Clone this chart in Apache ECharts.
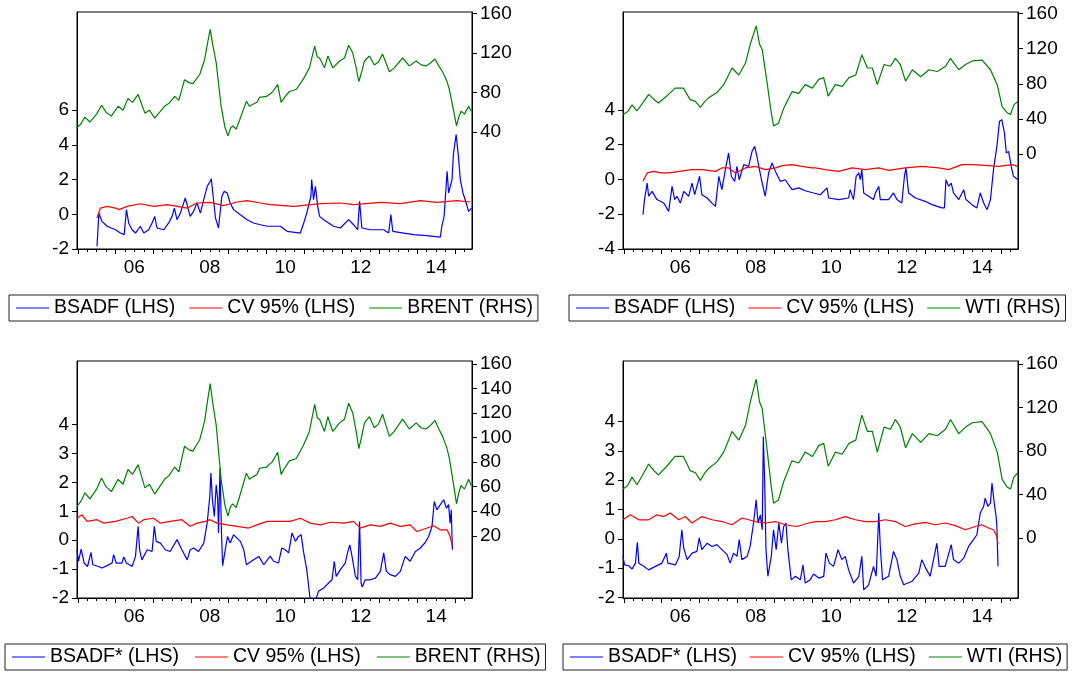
<!DOCTYPE html>
<html><head><meta charset="utf-8">
<script src="https://cdn.jsdelivr.net/npm/echarts@6/dist/echarts.min.js"></script>
<style>html,body{margin:0;padding:0;background:#fff}#c{width:1073px;height:675px}</style>
</head><body><div id="c"></div><script>
// ---- data: [year, value] ----
const brent = [[2004.98,44],[2005.08,48],[2005.19,55],[2005.32,50],[2005.5,58],[2005.63,67],[2005.75,60],[2005.89,56],[2006.07,66],[2006.2,62],[2006.33,74],[2006.45,70],[2006.6,78],[2006.78,59],[2006.9,62],[2007.04,54],[2007.15,59],[2007.3,66],[2007.42,69],[2007.57,76],[2007.68,72],[2007.83,93],[2007.95,90],[2008.05,89],[2008.23,98],[2008.36,113],[2008.45,132],[2008.51,144],[2008.58,128],[2008.67,110],[2008.8,66],[2008.9,45],[2008.98,36],[2009.05,44],[2009.11,46],[2009.2,43],[2009.29,52],[2009.47,71],[2009.55,66],[2009.64,68],[2009.75,70],[2009.82,75],[2010.0,76],[2010.15,80],[2010.3,88],[2010.39,70],[2010.5,76],[2010.61,81],[2010.79,83],[2010.97,93],[2011.14,105],[2011.28,127],[2011.35,116],[2011.41,115],[2011.54,105],[2011.63,117],[2011.76,105],[2011.94,112],[2012.07,115],[2012.18,128],[2012.29,120],[2012.38,105],[2012.45,91],[2012.52,100],[2012.6,112],[2012.73,117],[2012.86,108],[2012.97,111],[2013.08,119],[2013.17,110],[2013.26,101],[2013.39,105],[2013.61,115],[2013.79,107],[2013.97,112],[2014.1,108],[2014.23,107],[2014.35,110],[2014.47,114],[2014.57,107],[2014.67,101],[2014.78,92],[2014.85,83],[2014.94,66],[2015.04,46],[2015.1,55],[2015.16,61],[2015.25,58],[2015.36,66],[2015.43,61]];
const wti = [[2004.98,45],[2005.1,48],[2005.22,56],[2005.35,49],[2005.5,58],[2005.66,68],[2005.8,62],[2005.92,58],[2006.14,66],[2006.36,75],[2006.58,75],[2006.76,62],[2006.9,60],[2007.03,53],[2007.15,60],[2007.25,64],[2007.47,70],[2007.65,79],[2007.87,98],[2008.05,90],[2008.23,104],[2008.36,126],[2008.51,146],[2008.6,125],[2008.67,119],[2008.8,81],[2008.9,50],[2008.97,32],[2009.1,35],[2009.24,52],[2009.46,71],[2009.64,69],[2009.81,79],[2010.0,75],[2010.17,85],[2010.3,87],[2010.42,66],[2010.61,79],[2010.79,77],[2010.97,87],[2011.15,90],[2011.31,113],[2011.46,98],[2011.59,98],[2011.72,79],[2011.9,102],[2012.07,100],[2012.2,109],[2012.33,102],[2012.47,83],[2012.65,96],[2012.87,88],[2013.09,96],[2013.31,94],[2013.53,100],[2013.66,109],[2013.88,96],[2014.06,102],[2014.24,106],[2014.5,107],[2014.72,96],[2014.9,79],[2015.03,54],[2015.16,47],[2015.25,45],[2015.34,56],[2015.45,60]];
const bsadf1 = [[2005.51,-1.85],[2005.56,0.07],[2005.64,-0.41],[2005.78,-0.69],[2006.0,-0.89],[2006.13,-1.08],[2006.23,-1.17],[2006.29,0.27],[2006.35,-0.50],[2006.44,-0.89],[2006.53,-1.08],[2006.66,-0.69],[2006.75,-1.08],[2006.88,-0.89],[2006.97,-0.50],[2007.04,-0.12],[2007.10,-0.79],[2007.28,-0.89],[2007.41,-0.50],[2007.50,-0.12],[2007.56,0.36],[2007.63,-0.31],[2007.72,0.07],[2007.85,0.94],[2007.91,0.46],[2007.98,-0.12],[2008.07,0.17],[2008.16,0.65],[2008.25,0.07],[2008.34,0.84],[2008.43,1.61],[2008.51,1.90],[2008.54,2.05],[2008.58,1.23],[2008.65,-0.21],[2008.73,-0.79],[2008.82,1.04],[2008.88,1.32],[2008.96,1.23],[2009.04,0.65],[2009.13,0.27],[2009.31,-0.02],[2009.49,-0.31],[2009.66,-0.50],[2009.84,-0.60],[2010.02,-0.69],[2010.37,-0.69],[2010.55,-0.98],[2010.90,-1.08],[2010.99,-0.50],[2011.07,0.07],[2011.18,1.04],[2011.20,2.0],[2011.25,0.84],[2011.30,1.61],[2011.36,0.46],[2011.41,-0.12],[2011.52,-0.31],[2011.65,-0.50],[2011.78,-0.69],[2011.96,-0.79],[2012.18,-0.31],[2012.31,-0.60],[2012.42,-0.89],[2012.47,0.75],[2012.53,-0.79],[2012.75,-0.89],[2013.11,-0.89],[2013.24,-1.08],[2013.30,-0.02],[2013.35,-0.98],[2013.64,-1.08],[2013.90,-1.17],[2014.25,-1.23],[2014.61,-1.31],[2014.65,-0.69],[2014.71,-0.12],[2014.79,2.48],[2014.83,1.23],[2014.92,2.0],[2014.96,3.53],[2015.03,4.59],[2015.09,3.34],[2015.14,2.0],[2015.21,1.23],[2015.27,0.84],[2015.36,0.17],[2015.44,0.36]];
const cv1 = [[2005.51,-0.21],[2005.6,0.36],[2005.78,0.46],[2006.0,0.36],[2006.09,0.27],[2006.31,0.46],[2006.66,0.61],[2007.01,0.46],[2007.37,0.56],[2007.9,0.36],[2008.16,0.65],[2008.51,0.69],[2008.87,0.50],[2009.22,0.71],[2009.49,0.79],[2009.84,0.65],[2010.1,0.56],[2010.72,0.46],[2011.43,0.61],[2011.96,0.65],[2012.31,0.56],[2013.02,0.69],[2013.55,0.61],[2014.08,0.79],[2014.52,0.69],[2015.05,0.79],[2015.4,0.71]];
const bsadf2 = [[2005.51,-2.03],[2005.55,-1.16],[2005.62,-0.21],[2005.66,-0.97],[2005.75,-0.69],[2005.88,-1.16],[2006.06,-1.36],[2006.19,-1.84],[2006.28,-0.40],[2006.35,-1.16],[2006.41,-0.97],[2006.50,-1.36],[2006.59,-0.69],[2006.72,-0.97],[2006.81,-0.21],[2006.88,-0.88],[2007.01,0.18],[2007.07,-0.88],[2007.21,-1.07],[2007.34,-1.36],[2007.43,-1.55],[2007.52,0.18],[2007.60,-0.59],[2007.71,0.75],[2007.78,1.52],[2007.85,0.18],[2007.94,-0.11],[2008.00,0.75],[2008.06,-0.02],[2008.18,0.85],[2008.31,0.75],[2008.40,1.61],[2008.47,1.90],[2008.53,1.33],[2008.58,0.75],[2008.65,-0.02],[2008.75,-0.97],[2008.84,0.37],[2008.93,0.94],[2009.02,0.46],[2009.15,-0.11],[2009.28,-0.02],[2009.46,-0.59],[2009.64,-0.49],[2009.81,-0.65],[2010.03,-0.78],[2010.21,-0.88],[2010.39,-0.49],[2010.43,-1.07],[2010.70,-1.16],[2010.96,-1.07],[2011.00,-0.59],[2011.09,-1.16],[2011.16,0.18],[2011.23,0.37],[2011.27,-0.02],[2011.31,0.56],[2011.36,-0.78],[2011.49,-0.97],[2011.62,-1.16],[2011.67,-0.78],[2011.76,-0.40],[2011.80,-1.16],[2012.02,-1.16],[2012.15,-0.78],[2012.24,-1.16],[2012.37,-1.36],[2012.44,0.18],[2012.48,0.66],[2012.55,-0.78],[2012.73,-1.07],[2012.99,-1.26],[2013.17,-1.45],[2013.43,-1.64],[2013.50,-1.64],[2013.54,-0.02],[2013.61,-0.40],[2013.68,-0.21],[2013.74,-0.78],[2013.88,-1.16],[2014.01,-0.59],[2014.07,-1.16],[2014.23,-1.45],[2014.36,-1.64],[2014.45,-0.78],[2014.54,-1.36],[2014.63,-1.74],[2014.72,-1.16],[2014.80,0.56],[2014.89,1.90],[2014.96,3.34],[2015.02,3.43],[2015.09,2.67],[2015.14,1.52],[2015.20,1.61],[2015.27,0.75],[2015.33,0.18],[2015.45,-0.02]];
const cv2 = [[2005.51,-0.11],[2005.62,0.37],[2005.8,0.46],[2005.98,0.37],[2006.2,0.37],[2006.47,0.46],[2006.81,0.56],[2007.07,0.56],[2007.43,0.46],[2007.6,0.66],[2007.78,0.66],[2007.96,0.37],[2008.22,0.66],[2008.49,0.75],[2008.75,0.56],[2009.02,0.66],[2009.2,0.79],[2009.46,0.85],[2009.72,0.75],[2009.99,0.66],[2010.08,0.66],[2010.34,0.56],[2010.7,0.46],[2011.05,0.66],[2011.4,0.56],[2011.76,0.66],[2012.02,0.52],[2012.46,0.66],[2012.9,0.75],[2013.35,0.66],[2013.61,0.56],[2013.96,0.85],[2014.23,0.85],[2014.58,0.81],[2014.93,0.75],[2015.29,0.85],[2015.45,0.75]];
const bsadf3 = [[2004.98,-0.33],[2005.02,-0.73],[2005.09,-0.31],[2005.17,-0.79],[2005.26,-0.91],[2005.35,-0.42],[2005.40,-0.85],[2005.55,-0.91],[2005.64,-0.96],[2005.78,-0.88],[2005.91,-0.79],[2005.95,-0.50],[2006.02,-0.79],[2006.17,-0.79],[2006.22,-0.58],[2006.29,-0.79],[2006.44,-0.91],[2006.53,-0.56],[2006.60,0.48],[2006.64,-0.33],[2006.70,-0.68],[2006.84,-0.33],[2006.97,-0.39],[2007.03,0.48],[2007.08,-0.04],[2007.19,-0.10],[2007.32,-0.33],[2007.45,-0.39],[2007.63,0.02],[2007.76,-0.33],[2007.90,-0.68],[2007.98,-0.33],[2008.07,-0.27],[2008.20,-0.39],[2008.34,-0.10],[2008.43,0.59],[2008.50,1.51],[2008.53,2.32],[2008.57,1.40],[2008.62,0.82],[2008.67,1.92],[2008.71,1.40],[2008.73,0.25],[2008.77,2.49],[2008.81,0.25],[2008.84,-0.88],[2008.91,-0.33],[2008.97,0.13],[2009.04,-0.10],[2009.13,0.19],[2009.22,0.07],[2009.31,-0.04],[2009.40,-0.33],[2009.47,-0.85],[2009.66,-0.68],[2009.80,-0.56],[2009.93,-0.85],[2010.10,-0.55],[2010.19,-0.73],[2010.32,-0.79],[2010.41,-0.27],[2010.50,-0.33],[2010.59,-0.44],[2010.68,0.25],[2010.77,-0.04],[2010.85,0.13],[2010.92,0.19],[2010.99,-0.44],[2011.07,-1.02],[2011.15,-1.94],[2011.18,-2.15],[2011.30,-2.1],[2011.38,-1.77],[2011.52,-1.65],[2011.65,-1.48],[2011.74,-1.37],[2011.80,-0.73],[2011.85,-1.25],[2011.96,-1.02],[2012.09,-0.79],[2012.15,-0.44],[2012.21,-0.16],[2012.27,-0.56],[2012.36,-1.25],[2012.42,-1.37],[2012.47,0.65],[2012.51,-1.48],[2012.54,-1.62],[2012.62,-1.37],[2012.75,-1.37],[2012.89,-1.31],[2013.02,-1.08],[2013.11,-0.44],[2013.18,-1.08],[2013.28,-1.19],[2013.42,-1.25],[2013.55,-1.08],[2013.68,-0.56],[2013.81,-0.73],[2013.95,-0.39],[2014.08,-0.27],[2014.21,-0.08],[2014.30,0.13],[2014.39,0.48],[2014.45,1.34],[2014.52,1.05],[2014.61,1.23],[2014.70,1.40],[2014.77,1.11],[2014.83,1.23],[2014.87,0.59],[2014.90,1.05],[2014.93,-0.33]];
const cv3 = [[2004.98,0.76],[2005.11,0.88],[2005.25,0.65],[2005.51,0.71],[2005.69,0.59],[2006.0,0.65],[2006.3,0.76],[2006.44,0.82],[2006.61,0.59],[2006.75,0.71],[2007.01,0.76],[2007.19,0.59],[2007.45,0.65],[2007.76,0.71],[2007.98,0.48],[2008.16,0.59],[2008.38,0.65],[2008.51,0.71],[2008.69,0.59],[2008.96,0.53],[2009.22,0.48],[2009.53,0.42],[2009.75,0.53],[2010.02,0.65],[2010.37,0.65],[2010.63,0.65],[2010.9,0.76],[2011.16,0.59],[2011.43,0.53],[2011.69,0.62],[2012.05,0.59],[2012.31,0.65],[2012.49,0.42],[2012.75,0.53],[2013.02,0.48],[2013.28,0.59],[2013.55,0.48],[2013.81,0.53],[2013.99,0.30],[2014.26,0.42],[2014.43,0.50],[2014.61,0.36],[2014.79,0.36],[2014.87,0.13],[2014.93,-0.21]];
const bsadf4 = [[2004.98,-0.60],[2005.02,-0.89],[2005.13,-0.92],[2005.22,-1.03],[2005.31,-0.83],[2005.36,-0.12],[2005.40,-0.83],[2005.53,-0.94],[2005.66,-1.06],[2005.84,-0.94],[2006.01,-0.83],[2006.13,-0.49],[2006.17,-0.83],[2006.37,-0.89],[2006.47,-0.60],[2006.54,0.31],[2006.59,-0.32],[2006.68,-0.71],[2006.81,-0.49],[2006.94,-0.43],[2007.00,0.03],[2007.07,-0.37],[2007.21,-0.15],[2007.34,-0.26],[2007.47,-0.20],[2007.60,-0.37],[2007.74,-0.54],[2007.82,-0.83],[2007.91,-0.49],[2008.00,-0.60],[2008.06,-0.03],[2008.13,-0.71],[2008.27,-0.60],[2008.35,-0.26],[2008.44,0.54],[2008.51,1.33],[2008.56,0.54],[2008.62,0.82],[2008.67,0.31],[2008.70,3.49],[2008.74,1.67],[2008.77,-0.37],[2008.82,-1.28],[2008.91,-0.60],[2008.97,0.31],[2009.04,-0.37],[2009.11,0.54],[2009.18,-0.15],[2009.24,0.42],[2009.30,0.54],[2009.35,-0.37],[2009.44,-1.40],[2009.55,-1.28],[2009.68,-1.40],[2009.75,-0.89],[2009.81,-1.51],[2009.94,-1.40],[2010.03,-1.20],[2010.17,-1.34],[2010.30,-1.28],[2010.36,-0.49],[2010.45,-0.83],[2010.56,-0.94],[2010.68,-0.37],[2010.78,-0.71],[2010.87,-0.60],[2010.96,-1.06],[2011.09,-1.51],[2011.23,-1.28],[2011.31,-0.60],[2011.36,-1.74],[2011.49,-1.57],[2011.62,-0.94],[2011.69,-1.28],[2011.76,0.88],[2011.80,-0.26],[2011.86,-1.40],[2012.02,-1.28],[2012.15,-0.43],[2012.24,-0.71],[2012.33,-1.28],[2012.42,-1.57],[2012.64,-1.45],[2012.82,-1.17],[2012.90,-0.71],[2012.98,-0.94],[2013.12,-1.28],[2013.30,-0.15],[2013.36,-0.94],[2013.52,-0.94],[2013.68,-0.20],[2013.74,-0.71],[2013.88,-0.83],[2014.01,-0.66],[2014.14,-0.26],[2014.27,-0.03],[2014.36,0.14],[2014.45,0.88],[2014.54,1.11],[2014.58,1.39],[2014.65,1.11],[2014.72,1.22],[2014.76,1.90],[2014.82,1.22],[2014.87,0.76],[2014.89,0.42],[2014.92,-0.94]];
const cv4 = [[2004.98,0.65],[2005.17,0.82],[2005.4,0.65],[2005.66,0.65],[2005.88,0.82],[2006.06,0.76],[2006.23,0.88],[2006.46,0.65],[2006.63,0.76],[2006.81,0.54],[2007.07,0.76],[2007.34,0.65],[2007.6,0.59],[2007.87,0.48],[2008.13,0.71],[2008.49,0.59],[2008.75,0.54],[2009.02,0.59],[2009.28,0.48],[2009.59,0.42],[2009.9,0.54],[2010.08,0.59],[2010.34,0.59],[2010.61,0.65],[2010.87,0.76],[2011.14,0.65],[2011.4,0.59],[2011.67,0.59],[2011.93,0.65],[2012.2,0.59],[2012.46,0.42],[2012.73,0.51],[2012.99,0.56],[2013.26,0.48],[2013.52,0.54],[2013.79,0.45],[2014.05,0.31],[2014.32,0.42],[2014.49,0.48],[2014.67,0.37],[2014.8,0.31],[2014.89,0.08],[2014.92,-0.20]];
// axis values
const yearTicks = [2005,2006,2007,2008,2009,2010,2011,2012,2013,2014,2015];
const yearLabels = [2006.5,2008.5,2010.5,2012.5,2014.5];
const leftTicks12 = [-2,0,2,4,6];
const leftTicks2 = [-4,-2,0,2,4];
const leftTicks34 = [-2,-1,0,1,2,3,4];
const rightTicks1 = [40,80,120,160];
const rightTicks2 = [0,40,80,120,160];
const rightTicks3 = [20,40,60,80,100,120,140,160];
const rightTicks4 = [0,40,80,120,160];

const FONT = '"Liberation Sans", Arial, Helvetica, sans-serif';
const xMin = 2004.98, xMax = 2015.45;
const quarterTicks = [];
for (let y = 2005; y <= 2015; y++) for (let q = 1; q < 4; q++) quarterTicks.push(y + q / 4);

const BLUE = '#0000ff', RED = '#ff0000', GREEN = '#008000';
const panels = [
  {grid:{left:77,top:12,width:395,height:237}, l:[-2,11.66,leftTicks12], r:[-78.9,161.7,rightTicks1],
   s:[['BSADF (LHS)',bsadf1,BLUE,0],['CV 95% (LHS)',cv1,RED,0],['BRENT (RHS)',brent,GREEN,1]], lg:{left:9,top:295}, gap:14},
  {grid:{left:623,top:12,width:395,height:237}, l:[-4,9.62,leftTicks2], r:[-108.3,161.8,rightTicks2],
   s:[['BSADF (LHS)',bsadf2,BLUE,0],['CV 95% (LHS)',cv2,RED,0],['WTI (RHS)',wti,GREEN,1]], lg:{left:569,top:295}, gap:13},
  {grid:{left:77,top:361,width:395,height:237}, l:[-2,6.2,leftTicks34], r:[-30.7,162.4,rightTicks3],
   s:[['BSADF* (LHS)',bsadf3,BLUE,0],['CV 95% (LHS)',cv3,RED,0],['BRENT (RHS)',brent,GREEN,1]], lg:{left:5,top:644}, gap:16},
  {grid:{left:623,top:361,width:395,height:237}, l:[-2.02,6.07,leftTicks34], r:[-55.1,162.75,rightTicks4],
   s:[['BSADF* (LHS)',bsadf4,BLUE,0],['CV 95% (LHS)',cv4,RED,0],['WTI (RHS)',wti,GREEN,1]], lg:{left:563,top:644}, gap:13}
];

const txt = {color:'#000', fontSize:19, fontFamily:FONT};
const option = {animation:false, backgroundColor:'#fff', grid:[], xAxis:[], yAxis:[], series:[], legend:[]};
panels.forEach((p, i) => {
  option.grid.push(Object.assign({show:true, borderColor:'#000', borderWidth:1, backgroundColor:'transparent'}, p.grid));
  option.xAxis.push({type:'value', gridIndex:i, min:xMin, max:xMax, position:'bottom',
    axisLine:{show:true, onZero:false, lineStyle:{color:'#000', width:1}},
    axisTick:{show:true, customValues:yearTicks, length:5, lineStyle:{color:'#000'}},
    axisLabel:Object.assign({customValues:yearLabels, margin:9, formatter:v => ('0' + (Math.floor(v) % 100)).slice(-2)}, txt),
    splitLine:{show:false}});
  option.xAxis.push({type:'value', gridIndex:i, min:xMin, max:xMax, position:'bottom',
    axisLine:{show:false, onZero:false}, axisTick:{show:true, customValues:quarterTicks, length:3, lineStyle:{color:'#000'}},
    axisLabel:{show:false}, splitLine:{show:false}});
  option.yAxis.push({type:'value', gridIndex:i, position:'left', min:p.l[0], max:p.l[1],
    axisLine:{show:true, onZero:false, lineStyle:{color:'#000'}},
    axisTick:{show:true, customValues:p.l[2], length:5, lineStyle:{color:'#000'}},
    axisLabel:Object.assign({customValues:p.l[2], margin:8}, txt), splitLine:{show:false}});
  option.yAxis.push({type:'value', gridIndex:i, position:'right', min:p.r[0], max:p.r[1],
    axisLine:{show:true, onZero:false, lineStyle:{color:'#000'}},
    axisTick:{show:true, customValues:p.r[2], length:5, lineStyle:{color:'#000'}},
    axisLabel:Object.assign({customValues:p.r[2], margin:8}, txt), splitLine:{show:false}});
  p.s.forEach(([name, data, color, side]) => {
    option.series.push({type:'line', name, data, xAxisIndex:2*i, yAxisIndex:2*i+side,
      showSymbol:false, symbol:'none', clip:true, lineStyle:{width:1.2, color}, itemStyle:{color}});
  });
  option.legend.push({left:p.lg.left, top:p.lg.top, orient:'horizontal', data:p.s.map(s => s[0]),
    icon:'rect', itemWidth:33, itemHeight:1, itemGap:p.gap, selectedMode:false,
    borderColor:'#222', borderWidth:1, padding:[3,5,3,7],
    textStyle:{color:'#000', fontSize:19.5, fontFamily:FONT}});
});
const chart = echarts.init(document.getElementById('c'));
chart.setOption(option);
</script></body></html>
